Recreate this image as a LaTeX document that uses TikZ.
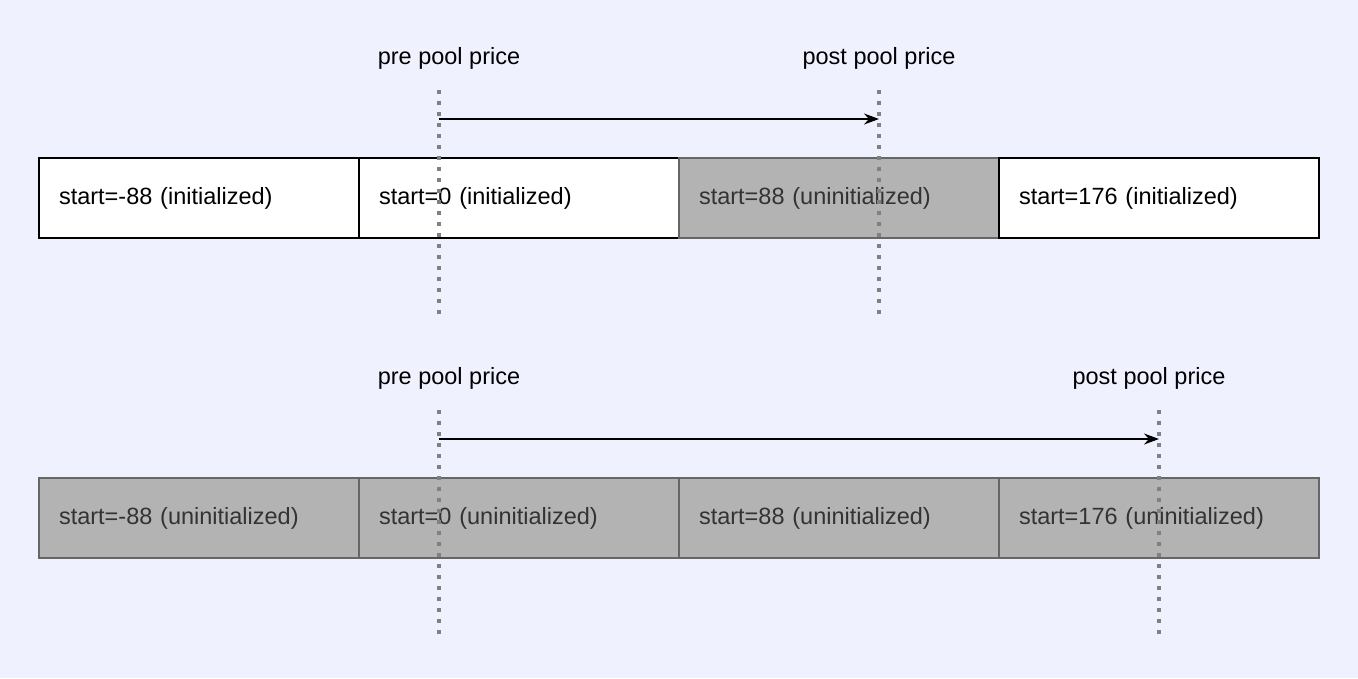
\documentclass[tikz,border=0pt]{standalone}
\usepackage{fontspec}
\setmainfont{Liberation Sans}
\usetikzlibrary{positioning,arrows.meta}
\definecolor{bgcolor}{RGB}{240,241,255}
\definecolor{uninitcolor}{RGB}{179,179,179}
\definecolor{uninitline}{RGB}{102,102,102}
\definecolor{uninittext}{RGB}{51,51,51}
\definecolor{pricecolor}{RGB}{128,128,128}

\begin{document}
\begin{tikzpicture}[%
    x=1pt, y=-1pt,              % pixel like units
    >={Stealth[length=15pt,width=11pt]},
    node distance=0pt,          % boxes touch each other
    ]
\tikzset{
  base/.style={draw, rectangle, outer sep=0pt, minimum width=320pt, minimum height=80pt,
    text width=280pt, align=left, font=\fontsize{23.5}{26}\selectfont, line width=1.5pt},
  init/.style={base, fill=white, draw=black, text=black},
  uninit/.style={base, fill=uninitcolor, draw=uninitline, text=uninittext},
  price/.style={draw=pricecolor, line width=3.5pt, dash pattern=on 3.5pt off 7.5pt},
  label/.style={font=\fontsize{23.5}{26}\selectfont},
}
\fill [bgcolor] (0,0) rectangle (1358,678);

% top row
\node [init]                (t0) at (199,198) {start=-88 (initialized)};
\node [init,right=of t0]    (t1) {start=0 (initialized)};
\node [uninit,right=of t1]  (t2) {start=88 (uninitialized)};
\node [init,right=of t2]    (t3) {start=176 (initialized)};

% bottom row
\node [uninit]              (b0) at (199,518) {start=-88 (uninitialized)};
\node [uninit,right=of b0]  (b1) {start=0 (uninitialized)};
\node [uninit,right=of b1]  (b2) {start=88 (uninitialized)};
\node [uninit,right=of b2]  (b3) {start=176 (uninitialized)};

% prices
\node [label] (tpre)  at (449,58)  {pre pool price};
\node [label] (tpost) at (879,58)  {post pool price};
\node [label] (bpre)  at (449,378) {pre pool price};
\node [label] (bpost) at (1149,378) {post pool price};

\coordinate (tpreA)  at (439,90);  \coordinate (tpreB)  at (439,320);
\coordinate (tpostA) at (879,90);  \coordinate (tpostB) at (879,320);
\coordinate (bpreA)  at (439,410); \coordinate (bpreB)  at (439,640);
\coordinate (bpostA) at (1159,410);\coordinate (bpostB) at (1159,640);

\draw [price] (tpreA) -- (tpreB);
\draw [price] (tpostA) -- (tpostB);
\draw [price] (bpreA) -- (bpreB);
\draw [price] (bpostA) -- (bpostB);

%connect
\draw [->, line width=1.5pt] (439,119) -- (879,119);
\draw [->, line width=1.5pt] (439,439) -- (1159,439);

\end{tikzpicture}
\end{document}
